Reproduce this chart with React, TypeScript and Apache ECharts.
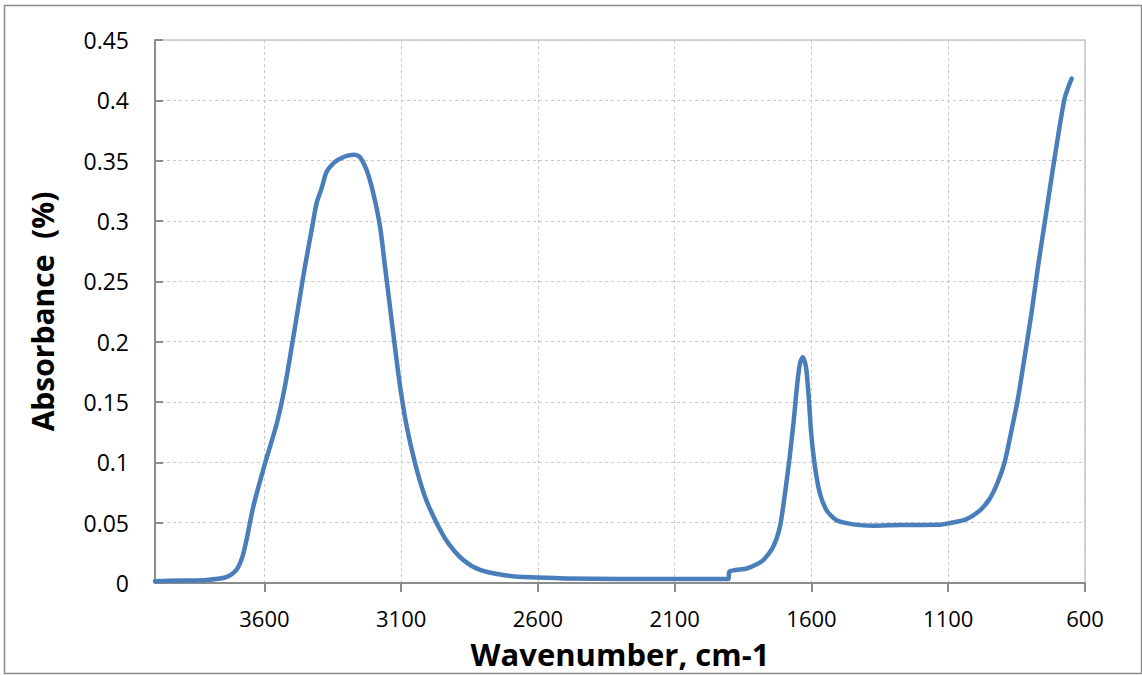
import React, { useEffect, useRef } from "react";
import * as echarts from "echarts";

const wavenumbers = [
  4000, 3900, 3811, 3738, 3710, 3695, 3680, 3665, 3641, 3598, 3555, 3525, 3500, 3476, 3452, 3427,
  3409, 3391, 3372, 3342, 3320, 3299, 3270, 3251, 3226, 3202, 3177, 3159, 3141, 3123, 3104, 3080,
  3049, 3013, 2970, 2928, 2873, 2812, 2727, 2629, 2500, 2300, 2100, 1904, 1900, 1837, 1800, 1776,
  1740, 1715, 1697, 1681, 1666, 1652, 1642, 1632, 1620, 1610, 1601, 1587, 1569, 1544, 1508, 1447,
  1374, 1276, 1133, 1100, 1035, 986, 949, 919, 894, 870, 845, 821, 796, 772, 747, 723, 698, 674, 649,
];

const absorbance = [
  0.0015, 0.002, 0.0025, 0.005, 0.009, 0.0135, 0.022, 0.036, 0.063, 0.099, 0.132, 0.163, 0.196, 0.229, 0.262, 0.293,
  0.315, 0.327, 0.341, 0.349, 0.352, 0.354, 0.355, 0.353, 0.342, 0.323, 0.295, 0.262, 0.229, 0.196, 0.163, 0.13,
  0.099, 0.0715, 0.0495, 0.033, 0.019, 0.0108, 0.0066, 0.0047, 0.0038, 0.0034, 0.0033, 0.0033, 0.0094, 0.012, 0.0155, 0.019,
  0.03, 0.047, 0.074, 0.102, 0.132, 0.165, 0.182, 0.187, 0.179, 0.154, 0.124, 0.096, 0.074, 0.06, 0.052, 0.0486,
  0.0475, 0.048, 0.0482, 0.0494, 0.0528, 0.0598, 0.0696, 0.0835, 0.1, 0.125, 0.153, 0.187, 0.223, 0.262, 0.299, 0.335, 0.371, 0.402, 0.418,
];

const xTicks = [3600, 3100, 2600, 2100, 1600, 1100, 600];
const yTicks = [0, 0.05, 0.1, 0.15, 0.2, 0.25, 0.3, 0.35, 0.4, 0.45];

const xTitle = "Wavenumber, cm-1";
const yTitle = "Absorbance  (%)";

export default function App() {
  const ref = useRef<HTMLDivElement>(null);

  useEffect(() => {
    if (!ref.current) return;
    const chart = echarts.init(ref.current, null, { renderer: "svg" });
    const font = "'Open Sans', sans-serif";
    chart.setOption({
      animation: false,
      backgroundColor: "#ffffff",
      grid: {
        left: 155,
        right: 57,
        top: 40,
        bottom: 92,
        show: true,
        borderColor: "#c4c4c4",
        borderWidth: 1.5,
      },
      xAxis: {
        type: "value",
        min: 600,
        max: 4000,
        interval: 500,
        inverse: true,
        name: xTitle,
        nameLocation: "middle",
        nameGap: 55,
        nameTextStyle: { fontFamily: font, fontSize: 31, fontWeight: "bold", color: "#000" },
        axisLine: { show: true, onZero: false, lineStyle: { color: "#8c8c8c", width: 2 } },
        axisTick: { show: true, inside: false, length: 9, customValues: xTicks, lineStyle: { color: "#8c8c8c", width: 2 } },
        axisLabel: {
          customValues: xTicks,
          margin: 24,
          fontFamily: font,
          fontSize: 22,
          color: "#000",
          formatter: (v: number) => String(v),
        },
        splitLine: { show: true, lineStyle: { color: "#c8c8c8", type: [3, 3], width: 1 } },
      },
      yAxis: {
        type: "value",
        min: 0,
        max: 0.45,
        interval: 0.05,
        name: yTitle,
        nameLocation: "middle",
        nameGap: 98,
        nameTextStyle: { fontFamily: font, fontSize: 30, fontWeight: "bold", color: "#000" },
        axisLine: { show: true, lineStyle: { color: "#8c8c8c", width: 2 } },
        axisTick: { show: true, inside: true, length: 8, customValues: yTicks, lineStyle: { color: "#8c8c8c", width: 2 } },
        axisLabel: {
          customValues: yTicks,
          margin: 26,
          fontFamily: font,
          fontSize: 23,
          color: "#000",
          formatter: (v: number) => String(+v.toFixed(2)),
        },
        splitLine: { show: true, lineStyle: { color: "#c8c8c8", type: [3, 3], width: 1 } },
      },
      graphic: [
        {
          type: "rect",
          shape: { x: 4.5, y: 5.5, width: 1137, height: 668 },
          style: { fill: "none", stroke: "#8c8c8c", lineWidth: 1.5 },
          silent: true,
          z: 100,
        },
      ],
      series: [
        {
          type: "line",
          data: wavenumbers.map((w, i) => [w, absorbance[i]]),
          showSymbol: false,
          symbol: "none",
          smooth: 0.25,
          lineStyle: { color: "#4a7ebb", width: 4.5, cap: "round", join: "round" },
          itemStyle: { color: "#4a7ebb" },
        },
      ],
    });
    return () => chart.dispose();
  }, []);

  return (
    <div
      ref={ref}
      style={{ position: "fixed", left: 0, top: 0, width: 1142, height: 675, background: "#fff" }}
    />
  );
}
